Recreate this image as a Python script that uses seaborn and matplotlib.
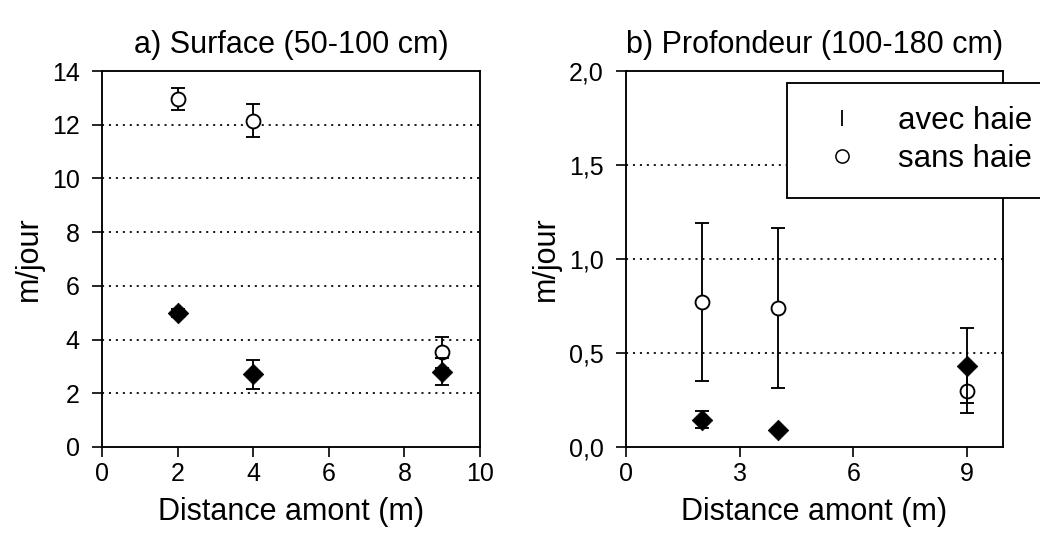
import pandas as pd
import matplotlib
matplotlib.use("Agg")
import matplotlib.pyplot as plt
from matplotlib.lines import Line2D
from matplotlib.ticker import FuncFormatter
import seaborn as sns

# values
distance = [2, 4, 9]

surf_avec = [4.98, 2.70, 2.80]
surf_avec_err = [0.15, 0.54, 0.50]
surf_sans = [12.95, 12.15, 3.52]
surf_sans_err = [0.40, 0.62, 0.58]

prof_avec = [0.145, 0.09, 0.433]
prof_avec_err = [0.045, 0.01, 0.20]
prof_sans = [0.77, 0.74, 0.30]
prof_sans_err = [0.42, 0.425, 0.12]

sns.set_style("white")
plt.rcParams["font.family"] = ["Liberation Sans", "DejaVu Sans"]
plt.rcParams.update({"text.color": "black", "axes.labelcolor": "black",
                     "xtick.color": "black", "ytick.color": "black"})

fig = plt.figure(figsize=(10.4, 5.41), dpi=100)
ax1 = fig.add_axes([102 / 1040, 94 / 541, 378 / 1040, 376 / 541])
ax2 = fig.add_axes([626 / 1040, 94 / 541, 377 / 1040, 376 / 541])

lw = 1.35


def draw(ax, avec, avec_err, sans, sans_err):
    df = pd.DataFrame({"x": distance, "avec": avec, "avec_err": avec_err,
                       "sans": sans, "sans_err": sans_err})
    ax.errorbar(df["x"], df["sans"], yerr=df["sans_err"], fmt="none",
                ecolor="black", elinewidth=lw, capsize=5, capthick=lw, zorder=2)
    sns.scatterplot(data=df, x="x", y="sans", ax=ax, marker="o", s=100,
                    facecolor="white", edgecolor="black", linewidth=lw, zorder=3)
    ax.errorbar(df["x"], df["avec"], yerr=df["avec_err"], fmt="none",
                ecolor="black", elinewidth=lw, capsize=5, capthick=lw, zorder=4)
    sns.scatterplot(data=df, x="x", y="avec", ax=ax, marker="D", s=110,
                    color="black", edgecolor="black", linewidth=0.5, zorder=5)


dots = (0, (1.2, 2.8))

draw(ax1, surf_avec, surf_avec_err, surf_sans, surf_sans_err)
draw(ax2, prof_avec, prof_avec_err, prof_sans, prof_sans_err)

ax1.set_xlim(0, 10)
ax1.set_ylim(0, 14)
ax1.set_xticks([0, 2, 4, 6, 8, 10])
ax1.set_yticks([0, 2, 4, 6, 8, 10, 12, 14])
for v in [2, 4, 6, 8, 10, 12]:
    ax1.axhline(v, color="black", linestyle=dots, linewidth=1.25, zorder=1)
ax1.set_title("a) Surface (50-100 cm)", fontsize=22, pad=13)

ax2.set_xlim(0, 9.95)
ax2.set_ylim(0, 2.0)
ax2.set_xticks([0, 3, 6, 9])
ax2.set_yticks([0, 0.5, 1.0, 1.5, 2.0])
ax2.yaxis.set_major_formatter(FuncFormatter(lambda v, p: f"{v:.1f}".replace(".", ",")))
for v in [0.5, 1.0, 1.5]:
    ax2.axhline(v, color="black", linestyle=dots, linewidth=1.25, zorder=1)
ax2.set_title("b) Profondeur (100-180 cm)", fontsize=22, pad=13)

for ax in (ax1, ax2):
    ax.set_xlabel("Distance amont (m)", fontsize=22, labelpad=8)
    ax.set_ylabel("m/jour", fontsize=22, labelpad=6)
    ax.tick_params(direction="out", length=7.5, width=1.2, labelsize=18,
                   color="black", left=True, bottom=True)
    ax.tick_params(axis="x", pad=3.5)
    ax.tick_params(axis="y", pad=8.5)
    for sp in ax.spines.values():
        sp.set_color("black")
        sp.set_linewidth(1.35)
        sp.set_visible(True)

handles = [Line2D([], [], linestyle="none", marker="|", color="black",
                  markersize=12, markeredgewidth=1.3),
           Line2D([], [], linestyle="none", marker="o", markerfacecolor="white",
                  markeredgecolor="black", markersize=9.5, markeredgewidth=1.1)]
leg = fig.legend(handles, ["avec haie", "sans haie"], loc="upper left",
                 bbox_to_anchor=(787 / 1040, 1 - 83 / 541), fontsize=22.5,
                 frameon=True, fancybox=False, framealpha=1, edgecolor="black",
                 borderpad=0.75, handletextpad=0.74, borderaxespad=0,
                 handlelength=2.05, labelspacing=0.25)
leg.get_frame().set_linewidth(1.35)

fig.savefig("out.png", dpi=100)
